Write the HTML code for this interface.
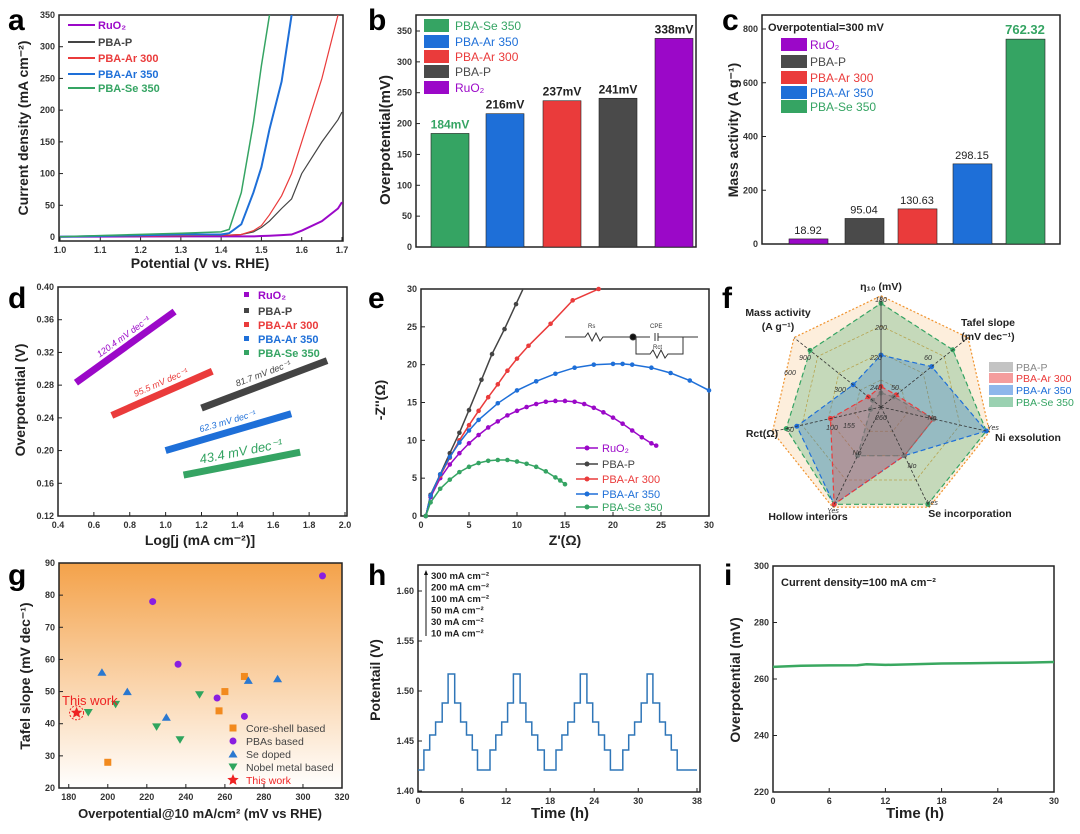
<!DOCTYPE html>
<html><head><meta charset="utf-8">
<style>
html,body{margin:0;padding:0;background:#fff;}
svg{display:block;font-family:"Liberation Sans",Arial,sans-serif;}
.t{font-size:9px;fill:#333;font-weight:bold;}
.at{font-size:14px;font-weight:bold;fill:#222;}
.pl{font-size:30px;font-weight:bold;fill:#000;}
</style></head>
<body>
<svg id="fig" width="1080" height="834" viewBox="0 0 1080 834" xmlns="http://www.w3.org/2000/svg">
<defs>
<linearGradient id="gbg" x1="0" y1="0" x2="0" y2="1"><stop offset="0" stop-color="#f4a24a"/><stop offset="1" stop-color="#fff"/></linearGradient>
</defs>
</svg>
<script>
// ---------- panel a data ----------
const aPot=[1.0,1.3,1.4,1.42,1.45,1.48,1.5,1.52,1.55,1.575,1.6,1.65,1.69,1.7];
const aRuO2=[0.5,1,1,1,1,1,1.5,2,3,4,10,25,45,55];
const aP=[0.5,2,3,3,4,8,15,25,45,60,100,150,185,197];
const aAr300=[0.5,2,3,3,4,10,18,35,65,100,150,250,350,370];
const aAr350=[0.5,4,4,6,20,70,110,170,245,350,400,400,400,400];
const aSe=[0.5,6,8,12,70,180,270,350,400,400,400,400,400,400];
// ---------- panel b data ----------
const bCats=["PBA-Se 350","PBA-Ar 350","PBA-Ar 300","PBA-P","RuO2"];
const bVals=[184,216,237,241,338];
const bLabels=["184mV","216mV","237mV","241mV","338mV"];
// ---------- panel c data ----------
const cCats=["RuO2","PBA-P","PBA-Ar 300","PBA-Ar 350","PBA-Se 350"];
const cVals=[18.92,95.04,130.63,298.15,762.32];
const cLabels=["18.92","95.04","130.63","298.15","762.32"];
// ---------- panel d data (start/end of Tafel fits) ----------
const dX0=[0.5,1.2,0.7,1.0,1.1];
const dY0=[0.283,0.252,0.243,0.200,0.170];
const dX1=[1.05,1.9,1.26,1.7,1.75];
const dY1=[0.370,0.310,0.297,0.245,0.198];
const dSlopeLabels=["120.4 mV dec⁻¹","81.7 mV dec⁻¹","95.5 mV dec⁻¹","62.3 mV dec⁻¹","43.4 mV dec⁻¹"];
// ---------- panel e data ----------
const eRuX=[0.5,1,2,3,4,5,6,7,8,9,10,11,12,13,14,15,16,17,18,19,20,21,22,23,24,24.5];
const eRuY=[0,2.5,5,6.8,8.3,9.6,10.7,11.7,12.5,13.3,13.9,14.4,14.8,15.1,15.2,15.2,15.1,14.8,14.3,13.7,13.0,12.2,11.3,10.4,9.6,9.3];
const ePX=[0.5,1,2,3,4,5,6.3,7.4,8.7,9.9,11];
const ePY=[0,2.8,5.5,8.3,11,14,18,21.4,24.7,28,31];
const eA3X=[0.5,1,2,3,4,5,6,7,8,9,10,11.2,13.5,15.8,18.5,19.5];
const eA3Y=[0,2.7,5.3,7.7,10,12,13.9,15.7,17.4,19.2,20.8,22.5,25.4,28.5,30,31];
const eA5X=[0.5,1,2,3,4,5,6,8,10,12,14,16,18,20,21,22,24,26,28,30];
const eA5Y=[0,2.7,5.5,7.8,9.7,11.3,12.7,14.9,16.6,17.8,18.8,19.6,20.0,20.1,20.1,20.0,19.6,18.9,17.9,16.6];
const eSeX=[0.5,1,2,3,4,5,6,7,8,9,10,11,12,13,14,14.5,15];
const eSeY=[0,1.8,3.6,4.8,5.8,6.5,7.0,7.3,7.4,7.4,7.2,6.9,6.5,5.9,5.1,4.7,4.2];
// ---------- panel f data (fraction of radius; axes: eta10,Tafel,Ni,Se,Hollow,Rct,Mass) ----------
const fAxes=["η10","Tafel","Ni","Se","Hollow","Rct","Mass"];
const fP=[0.13,0.15,0.5,0.5,0.5,0.1,0.1];
const fAr300=[0.19,0.18,0.5,0.5,1.0,0.48,0.15];
const fAr350=[0.48,0.6,1.0,0.5,1.0,0.8,0.33];
const fSe=[0.96,0.85,1.0,1.0,1.0,0.9,0.84];
// ---------- panel g data ----------
const gCoreX=[200,257,260,270], gCoreY=[28,44,50,54.7];
const gPBAX=[223,236,256,270,310], gPBAY=[78,58.5,48,42.3,86];
const gSeX=[197,210,230,272,287], gSeY=[56,50,42,53.5,54];
const gNobX=[190,204,225,237,247], gNobY=[43.5,46,39,35,49];
const gThisX=[184], gThisY=[43.4];
// ---------- panel h data ----------
const hStart=[0,0.8,1.6,2.4,3.3,4.1,5.0,5.8,6.6,7.4,8.1,9.8,10.6,11.4,12.2,13.0,13.9,14.7,15.5,16.3,17.2,18.8,19.6,20.4,21.3,22.1,23.0,23.8,24.6,25.4,26.2,27.9,28.7,29.5,30.4,31.2,32.0,32.9,33.7,34.5,35.3,38];
const hVal=[1.421,1.441,1.456,1.469,1.488,1.517,1.488,1.469,1.456,1.441,1.421,1.441,1.456,1.469,1.488,1.517,1.488,1.469,1.456,1.441,1.421,1.441,1.456,1.469,1.488,1.517,1.488,1.469,1.456,1.441,1.421,1.441,1.456,1.469,1.488,1.517,1.488,1.469,1.456,1.441,1.421,1.421];
// ---------- panel i data ----------
const iT=[0,3,6,9,10,12,15,18,21,24,27,30];
const iV=[264.3,264.7,264.8,264.9,265.2,265.0,265.2,265.5,265.6,265.7,265.8,266.0];

const NS="http://www.w3.org/2000/svg";
const svg=document.getElementById('fig');
function mk(tag,attrs,parent){const e=document.createElementNS(NS,tag);for(const k in attrs)e.setAttribute(k,attrs[k]);(parent||svg).appendChild(e);return e;}
function lin(d0,d1,r0,r1){return v=>r0+(v-d0)*(r1-r0)/(d1-d0);}
function txt(x,y,s,cls,extra){const e=mk('text',Object.assign({x:x,y:y},extra||{}));if(cls)e.setAttribute('class',cls);e.textContent=s;return e;}
function frame(x0,y0,x1,y1,name){const r=mk('rect',{x:x0,y:y0,width:x1-x0,height:y1-y0,fill:'none',stroke:'#222','stroke-width':1.5});

}
function yTicks(ys,vals,x0,name,fmt){vals.forEach(v=>{mk('line',{x1:x0,x2:x0+4,y1:ys(v),y2:ys(v),stroke:'#222'});const t=txt(x0-4,ys(v)+3,fmt?fmt(v):String(v),'t',{'text-anchor':'end'});

});}
function xTicks(xs,vals,y0,name,fmt){vals.forEach(v=>{mk('line',{x1:xs(v),x2:xs(v),y1:y0,y2:y0-4,stroke:'#222'});const t=txt(xs(v),y0+12,fmt?fmt(v):String(v),'t',{'text-anchor':'middle'});

});}
function label(x,y,s,name,rot,size){const t=txt(x,y,s,'at',{'text-anchor':'middle'});if(rot)t.setAttribute('transform','rotate(-90 '+x+' '+y+')');if(size)t.style.fontSize=size+'px';

return t;}
function letter(x,y,s){const t=txt(x,y,s,'pl');

}
function line(xs,ys,X,Y,color,name,w,clip){let d='';X.forEach((v,i)=>{d+=(i?'L':'M')+xs(v).toFixed(1)+' '+ys(Y[i]).toFixed(1);});const p=mk('path',{d:d,fill:'none',stroke:color,'stroke-width':w||1.5});if(clip)p.setAttribute('clip-path','url(#'+clip+')');

return p;}
function clipRect(id,x0,y0,x1,y1){const c=mk('clipPath',{id:id},svg.querySelector('defs'));mk('rect',{x:x0,y:y0,width:x1-x0,height:y1-y0},c);}
const C={ru:'#9b08c8',p:'#444',a3:'#ea3b3b',a5:'#1e6fd8',se:'#35a463'};

// ===== Panel a =====
(function(){const xs=lin(1.0,1.7,60,342),ys=lin(0,350,237,15);clipRect('ca',59,15,343,241);
letter(8,30,'a');frame(59,15,343,241,'panel-a-frame');
yTicks(ys,[0,50,100,150,200,250,300,350],59,'a-y');
xTicks(xs,[1.0,1.1,1.2,1.3,1.4,1.5,1.6,1.7],241,'a-x',v=>v.toFixed(1));
label(200,268,'Potential (V vs. RHE)','a-x-title');label(28,128,'Current density (mA cm⁻²)','a-y-title',true);
line(xs,ys,aPot,aRuO2,C.ru,'a-ruo2-line',2,'ca');line(xs,ys,aPot,aP,C.p,'a-pbap-line',1.2,'ca');
line(xs,ys,aPot,aAr300,C.a3,'a-ar300-line',1.2,'ca');line(xs,ys,aPot,aAr350,C.a5,'a-ar350-line',2,'ca');line(xs,ys,aPot,aSe,C.se,'a-se350-line',1.5,'ca');
const L=[['RuO₂',C.ru],['PBA-P',C.p],['PBA-Ar 300',C.a3],['PBA-Ar 350',C.a5],['PBA-Se 350',C.se]];const ly=[25,42,58,74,88];
L.forEach((l,i)=>{const g=mk('g',{});


mk('line',{x1:68,x2:95,y1:ly[i],y2:ly[i],stroke:l[1],'stroke-width':2},g);const t=txt(98,ly[i]+4,l[0],null,{fill:l[1],'font-size':11,'font-weight':'bold'});g.appendChild(t);});})();

// ===== Panel b =====
(function(){const ys=lin(0,350,247,31);const cx=[450,505,562,618,674];const cols=[C.se,C.a5,C.a3,'#4a4a4a',C.ru];
letter(368,30,'b');frame(416,15,696,247,'panel-b-frame');
yTicks(ys,[0,50,100,150,200,250,300,350],416,'b-y');label(390,140,'Overpotential(mV)','b-y-title',true,15);
bVals.forEach((v,i)=>{const r=mk('rect',{x:cx[i]-19,y:ys(v),width:38,height:ys(0)-ys(v),fill:cols[i],stroke:'#222','stroke-width':0.6});


const t=txt(cx[i],ys(v)-5,bLabels[i],null,{'text-anchor':'middle','font-size':12,'font-weight':'bold',fill:i==0?C.se:'#222'});

});
const ly=[25,41,56,71,87];bCats.forEach((c,i)=>{const g=mk('g',{});


mk('rect',{x:424,y:ly[i]-6,width:25,height:13,fill:cols[i]},g);g.appendChild(txt(455,ly[i]+5,c==='RuO2'?'RuO₂':c,null,{'font-size':12,fill:cols[i]}));});})();

// ===== Panel c =====
(function(){const ys=lin(0,800,244,29);const cx=[808,864,917,972,1025];const cols=[C.ru,'#4a4a4a',C.a3,C.a5,C.se];
letter(722,30,'c');frame(762,15,1060,244,'panel-c-frame');
yTicks(ys,[0,200,400,600,800],762,'c-y');label(738,130,'Mass activity (A g⁻¹)','c-y-title',true,14);
cVals.forEach((v,i)=>{const r=mk('rect',{x:cx[i]-19,y:ys(v),width:39,height:ys(0)-ys(v),fill:cols[i],stroke:'#222','stroke-width':0.6});


const t=txt(cx[i],ys(v)-5,cLabels[i],null,{'text-anchor':'middle','font-size':i==4?13:11,'font-weight':i==4?'bold':'normal',fill:i==4?C.se:'#222'});

});
const tt=txt(768,31,'Overpotential=300 mV',null,{'font-size':11,'font-weight':'bold',fill:'#222'});


const ly=[44,61,77,92,106];cCats.forEach((c,i)=>{const g=mk('g',{});


mk('rect',{x:781,y:ly[i]-6,width:26,height:13,fill:cols[i]},g);g.appendChild(txt(810,ly[i]+5,c==='RuO2'?'RuO₂':c,null,{'font-size':12,fill:cols[i]}));});})();

// ===== Panel d =====
(function(){const xs=lin(0.4,2.0,58,345),ys=lin(0.12,0.40,516,287);const cols=[C.ru,'#444',C.a3,C.a5,C.se];
letter(8,308,'d');frame(58,287,347,516,'panel-d-frame');
yTicks(ys,[0.12,0.16,0.20,0.24,0.28,0.32,0.36,0.40],58,'d-y',v=>v.toFixed(2));
xTicks(xs,[0.4,0.6,0.8,1.0,1.2,1.4,1.6,1.8,2.0],516,'d-x',v=>v.toFixed(1));
label(200,545,'Log[j (mA cm⁻²)]','d-x-title');label(25,400,'Overpotential (V)','d-y-title',true);
dX0.forEach((x0,i)=>{const p=mk('line',{x1:xs(x0),y1:ys(dY0[i]),x2:xs(dX1[i]),y2:ys(dY1[i]),stroke:cols[i],'stroke-width':7});


const mx=(xs(x0)+xs(dX1[i]))/2,my=(ys(dY0[i])+ys(dY1[i]))/2;const ang=Math.atan2(ys(dY1[i])-ys(dY0[i]),xs(dX1[i])-xs(x0))*180/Math.PI;
const t=txt(mx,my-8,dSlopeLabels[i],null,{'text-anchor':'middle','font-size':i==4?13:9,'font-style':'italic',fill:cols[i],transform:'rotate('+ang.toFixed(1)+' '+mx+' '+(my-8)+')'});

});
const L=[['RuO₂',C.ru],['PBA-P','#444'],['PBA-Ar 300',C.a3],['PBA-Ar 350',C.a5],['PBA-Se 350',C.se]];const ly=[295,311,325,339,353];
L.forEach((l,i)=>{const g=mk('g',{});


mk('rect',{x:244,y:ly[i]-3,width:5,height:5,fill:l[1]},g);g.appendChild(txt(258,ly[i]+4,l[0],null,{'font-size':11,'font-weight':'bold',fill:l[1]}));});})();

// ===== Panel e =====
(function(){const xs=lin(0,30,421,709),ys=lin(0,30,516,289);clipRect('ce',421,289,709,516);
letter(368,308,'e');frame(421,289,709,516,'panel-e-frame');
yTicks(ys,[0,5,10,15,20,25,30],421,'e-y');xTicks(xs,[0,5,10,15,20,25,30],516,'e-x');
label(565,545,"Z'(Ω)",'e-x-title');label(385,400,"-Z''(Ω)",'e-y-title',true);
const S=[[eRuX,eRuY,C.ru,'e-ruo2-curve'],[ePX,ePY,'#444','e-pbap-curve'],[eA3X,eA3Y,C.a3,'e-ar300-curve'],[eA5X,eA5Y,C.a5,'e-ar350-curve'],[eSeX,eSeY,C.se,'e-se350-curve']];
S.forEach(s=>{line(xs,ys,s[0],s[1],s[2],s[3],1.5,'ce');s[0].forEach((x,i)=>{if(s[1][i]<=30){const m=mk('circle',{cx:xs(x),cy:ys(s[1][i]),r:2.3,fill:s[2]});

}});});
const ci=mk('g',{fill:'none',stroke:'#333','stroke-width':1});


mk('path',{d:'M565 337 H585 l3 -4 l4 8 l4 -8 l4 8 l3 -4 H630 H650 M655 333 v8 M658 333 v8 M658 337 H698 M636 337 v17 H650 l3 -4 l4 8 l4 -8 l4 8 l3 -4 H683 v-17'},ci);
mk('circle',{cx:633,cy:337,r:3,fill:'#111'},ci);
ci.appendChild(txt(588,328,'Rs',null,{'font-size':6,fill:'#333',stroke:'none'}));ci.appendChild(txt(650,328,'CPE',null,{'font-size':6,fill:'#333',stroke:'none'}));ci.appendChild(txt(653,349,'Rct',null,{'font-size':6,fill:'#333',stroke:'none'}));
const L=[['RuO₂',C.ru],['PBA-P','#444'],['PBA-Ar 300',C.a3],['PBA-Ar 350',C.a5],['PBA-Se 350',C.se]];const ly=[448,464,479,494,507];
L.forEach((l,i)=>{const g=mk('g',{});


mk('line',{x1:576,x2:598,y1:ly[i],y2:ly[i],stroke:l[1],'stroke-width':1.5},g);mk('circle',{cx:587,cy:ly[i],r:2.5,fill:l[1]},g);g.appendChild(txt(602,ly[i]+4,l[0],null,{'font-size':11,fill:l[1]}));});})();

// ===== Panel f (radar) =====
(function(){const cx=881,cy=407,R=108;
letter(722,308,'f');
function pt(i,f){const a=(-90+i*360/7)*Math.PI/180;return [cx+R*f*Math.cos(a),cy+R*f*Math.sin(a)];}
function poly(vals){return vals.map((f,i)=>pt(i,f).map(v=>v.toFixed(1)).join(',')).join(' ');}
const outer=mk('polygon',{points:poly([1,1,1,1,1,1,1].map(v=>v*1.03)),fill:'#fbe3c4','fill-opacity':0.6,stroke:'#f0932e','stroke-dasharray':'2,2','stroke-width':1.2});


[0.25,0.5,0.75].forEach(f=>{const g=mk('polygon',{points:poly([f,f,f,f,f,f,f]),fill:'none',stroke:'#e8a44a','stroke-dasharray':'3,2','stroke-width':0.8});

});
const S=[[fSe,C.se,'f-se350-area'],[fAr350,C.a5,'f-ar350-area'],[fAr300,C.a3,'f-ar300-area'],[fP,'#777','f-pbap-area']];
S.forEach(s=>{const p=mk('polygon',{points:poly(s[0]),fill:s[1],'fill-opacity':0.28,stroke:s[1],'stroke-dasharray':'5,3','stroke-width':1.2});


s[0].forEach((f,i)=>{const q=pt(i,f);const m=mk('circle',{cx:q[0],cy:q[1],r:2.5,fill:s[1]});

});});
fAxes.forEach((a,i)=>{const q=pt(i,1.03);const l=mk('line',{x1:cx,y1:cy,x2:q[0],y2:q[1],stroke:'#333','stroke-width':0.8,'stroke-dasharray':i==0?'':'3,2'});

});
const labs=[[881,290,'η₁₀ (mV)'],[988,326,'Tafel slope'],[988,340,'(mV dec⁻¹)'],[1028,441,'Ni exsolution'],[970,517,'Se incorporation'],[808,520,'Hollow interiors'],[762,437,'Rct(Ω)'],[778,316,'Mass activity'],[778,330,'(A g⁻¹)']];
labs.forEach(l=>{const t=txt(l[0],l[1],l[2],null,{'text-anchor':'middle','font-size':10.5,'font-weight':'bold',fill:'#222'});

});
const sm=[[881,302,'180'],[881,330,'200'],[876,360,'220'],[876,390,'240'],[881,420,'260'],[928,360,'60'],[895,390,'50'],[805,360,'900'],[790,375,'600'],[840,392,'300'],[790,432,'50'],[832,430,'100'],[849,428,'155'],[932,420,'No'],[993,430,'Yes'],[912,468,'No'],[932,505,'Yes'],[857,455,'No'],[833,513,'Yes']];
sm.forEach(l=>{const t=txt(l[0],l[1],l[2],null,{'text-anchor':'middle','font-size':7,'font-style':'italic',fill:'#333'});

});
const L=[['PBA-P','#888'],['PBA-Ar 300',C.a3],['PBA-Ar 350',C.a5],['PBA-Se 350',C.se]];const ly=[367,378,390,402];
L.forEach((l,i)=>{const g=mk('g',{});


mk('rect',{x:989,y:ly[i]-5,width:24,height:10,fill:l[1],'fill-opacity':0.5},g);g.appendChild(txt(1016,ly[i]+4,l[0],null,{'font-size':10.5,fill:l[1]}));});})();

// ===== Panel g =====
(function(){const xs=lin(175,320,59,342),ys=lin(20,90,788,563);
letter(8,585,'g');const bg=mk('rect',{x:59,y:563,width:283,height:225,fill:'url(#gbg)'});


frame(59,563,342,788,'panel-g-frame');
yTicks(ys,[20,30,40,50,60,70,80,90],59,'g-y');xTicks(xs,[180,200,220,240,260,280,300,320],788,'g-x');
label(200,818,'Overpotential@10 mA/cm² (mV vs RHE)','g-x-title',false,13);label(30,676,'Tafel slope (mV dec⁻¹)','g-y-title',true);
function sq(x,y,c){const m=mk('rect',{x:x-3.5,y:y-3.5,width:7,height:7,fill:c});

}
function ci(x,y,c){const m=mk('circle',{cx:x,cy:y,r:3.5,fill:c});

}
function tu(x,y,c){const m=mk('polygon',{points:`${x},${y-4} ${x-4.5},${y+3.5} ${x+4.5},${y+3.5}`,fill:c});

}
function td(x,y,c){const m=mk('polygon',{points:`${x},${y+4} ${x-4.5},${y-3.5} ${x+4.5},${y-3.5}`,fill:c});

}
function star(x,y,r,c){let p='';for(let k=0;k<10;k++){const a=(-90+k*36)*Math.PI/180,rr=k%2?r*0.45:r;p+=(x+rr*Math.cos(a)).toFixed(1)+','+(y+rr*Math.sin(a)).toFixed(1)+' ';}const m=mk('polygon',{points:p,fill:c});

}
gCoreX.forEach((x,i)=>sq(xs(x),ys(gCoreY[i]),'#f28a1e'));
gPBAX.forEach((x,i)=>ci(xs(x),ys(gPBAY[i]),'#8a1ee0'));
gSeX.forEach((x,i)=>tu(xs(x),ys(gSeY[i]),'#2a78d0'));
gNobX.forEach((x,i)=>td(xs(x),ys(gNobY[i]),'#2fa55e'));
gThisX.forEach((x,i)=>{mk('circle',{cx:xs(x),cy:ys(gThisY[i]),r:7,fill:'none',stroke:'#e22','stroke-dasharray':'2,1.5'});star(xs(x),ys(gThisY[i]),6,'#e22');});
const tw=txt(62,705,'This work',null,{'font-size':13,fill:'#e22'});


const L=[['Core-shell based','#f28a1e',sq],['PBAs based','#8a1ee0',ci],['Se doped','#2a78d0',tu],['Nobel metal based','#2fa55e',td],['This work','#e22',null]];const ly=[728,741,754,767,780];
L.forEach((l,i)=>{if(l[2])l[2](233,ly[i],l[1]);else star(233,ly[i],6,l[1]);const t=txt(246,ly[i]+4,l[0],null,{'font-size':10.5,fill:i==4?'#e22':'#444'});

});})();

// ===== Panel h =====
(function(){const xs=lin(0,38,418,697),ys=lin(1.40,1.60,791,591);
letter(368,585,'h');frame(418,565,700,792,'panel-h-frame');
yTicks(ys,[1.40,1.45,1.50,1.55,1.60],418,'h-y',v=>v.toFixed(2));xTicks(xs,[0,6,12,18,24,30,38],792,'h-x');
label(560,818,'Time (h)','h-x-title',false,15);label(380,680,'Potentail (V)','h-y-title',true);
let d='';hStart.forEach((t,i)=>{if(i<hStart.length-1){d+=(i?'L':'M')+xs(t).toFixed(1)+' '+ys(hVal[i]).toFixed(1)+'L'+xs(hStart[i+1]).toFixed(1)+' '+ys(hVal[i]).toFixed(1);}});
const p=mk('path',{d:d,fill:'none',stroke:'#2f76b8','stroke-width':1.5});


mk('line',{x1:426,x2:426,y1:636,y2:572,stroke:'#111','stroke-width':1});mk('polygon',{points:'426,570 424,575 428,575',fill:'#111'});
['300 mA cm⁻²','200 mA cm⁻²','100 mA cm⁻²','50 mA cm⁻²','30 mA cm⁻²','10 mA cm⁻²'].forEach((s,i)=>{const t=txt(431,579+i*11.5,s,null,{'font-size':9.5,'font-weight':'bold',fill:'#222'});

});})();

// ===== Panel i =====
(function(){const xs=lin(0,30,773,1054),ys=lin(220,300,792,566);
letter(724,585,'i');frame(773,566,1054,792,'panel-i-frame');
yTicks(ys,[220,240,260,280,300],773,'i-y');xTicks(xs,[0,6,12,18,24,30],792,'i-x');
label(915,818,'Time (h)','i-x-title',false,15);label(740,680,'Overpotential (mV)','i-y-title',true);
line(xs,ys,iT,iV,'#3aa860','i-stability-line',2.5);
const t=txt(781,586,'Current density=100 mA cm⁻²',null,{'font-size':11,'font-weight':'bold',fill:'#222'});

})();
</script>
</body></html>
